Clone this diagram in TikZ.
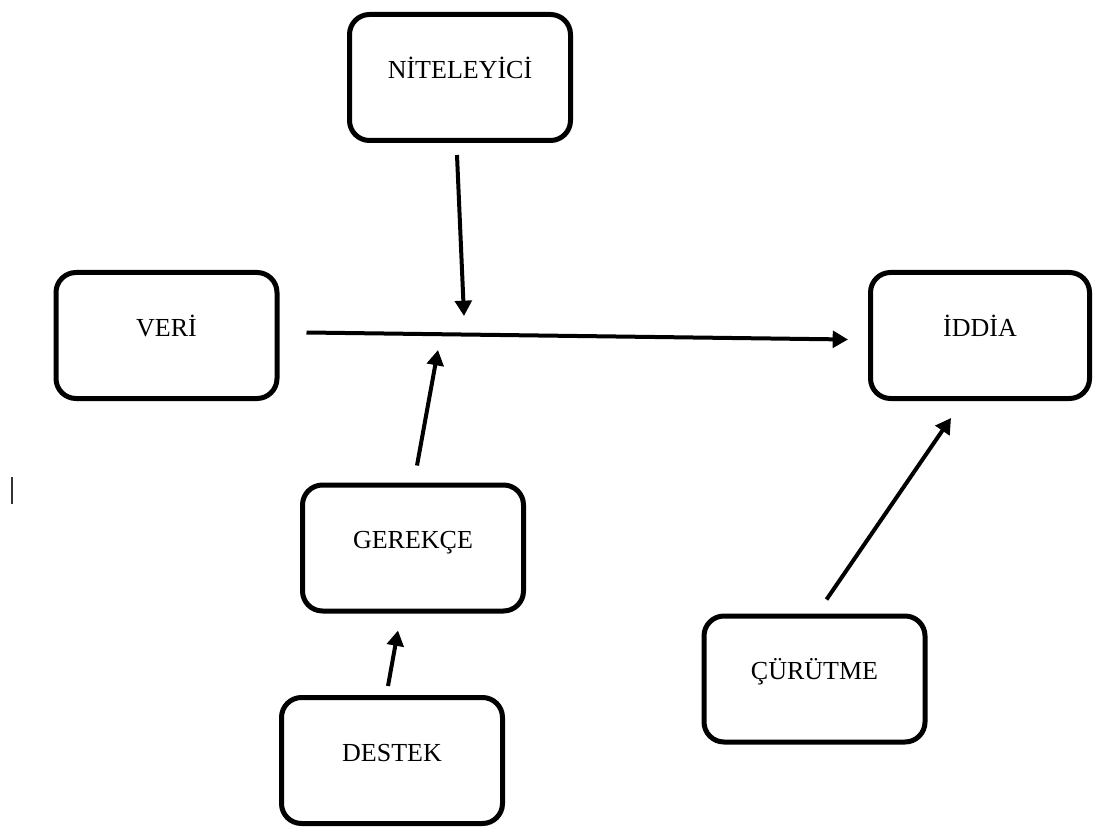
\documentclass[tikz,border=0pt]{standalone}
\usepackage{fontspec}
\setmainfont{Liberation Serif}
\usepackage{tikz}
\usetikzlibrary{arrows.meta}
\tikzset{
    rounded-box/.style = {draw=black, fill=white, line width=3.75pt, rectangle, rounded corners=15pt, minimum width=165.75pt, minimum height=94.5pt, inner sep=0pt, font=\fontsize{19.5}{23}\selectfont, text height=12.9pt, text depth=12pt},
    thick-arrow/.style = {draw=black, line width=3pt, -{Triangle[width=12.5pt,length=11.5pt]}},
}

\begin{document}
\begin{tikzpicture}[x=0.75pt,y=-0.75pt]
\useasboundingbox (0,0) rectangle (1094,830);
\node [rounded-box] (niteleyici) at (460,77.5) {NİTELEYİCİ};
\node [rounded-box] (veri) at (166.5,335.5) {VERİ};
\node [rounded-box, minimum width=164.25pt] (iddia) at (980,335.5) {İDDİA};
\node [rounded-box] (gerekce) at (413,548) {GEREKÇE};
\node [rounded-box] (curutme) at (814.5,679) {ÇÜRÜTME};
\node [rounded-box] (destek) at (392,760.5) {DESTEK};
\coordinate (nit-end) at (464,316);
\coordinate (ger-end) at (438,350);
\draw [thick-arrow] ([shift={(-3,12)}]niteleyici.south) -- (nit-end);
\draw [thick-arrow] ([shift={(27,-3)}]veri.east) -- ([shift={(-20,4)}]iddia.west);
\draw [thick-arrow] ([shift={(4,-17)}]gerekce.north) -- (ger-end);
\draw [thick-arrow] ([shift={(-4,-9)}]destek.north) -- ([shift={(-15,17)}]gerekce.south);
\draw [thick-arrow] ([shift={(12,-14)}]curutme.north) -- ([shift={(-29,17)}]iddia.south);
\draw [line width=1pt, black!80] (12,477) -- (12,504);
\end{tikzpicture}
\end{document}
